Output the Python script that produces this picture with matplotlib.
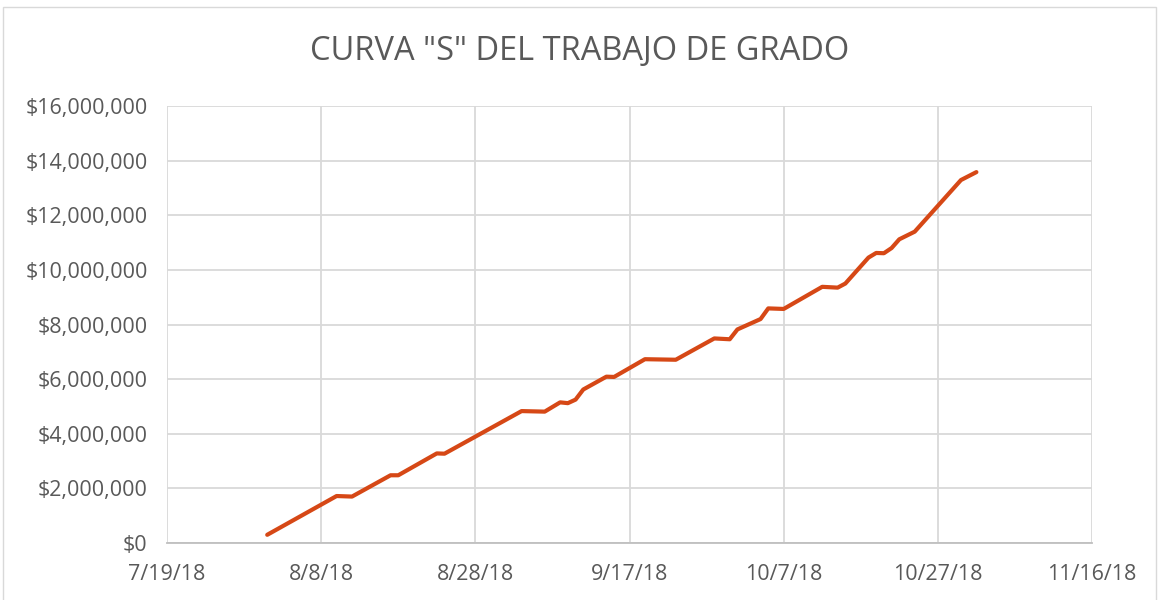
import matplotlib.pyplot as plt
from matplotlib.patches import Rectangle
import numpy as np
import pandas as pd

# fechas y valor acumulado (pesos)
fechas = ["2018-08-01", "2018-08-10", "2018-08-12", "2018-08-17", "2018-08-18",
          "2018-08-23", "2018-08-24", "2018-09-03", "2018-09-06", "2018-09-08",
          "2018-09-09", "2018-09-10", "2018-09-11", "2018-09-14", "2018-09-15",
          "2018-09-19", "2018-09-23", "2018-09-28", "2018-09-30", "2018-10-01",
          "2018-10-04", "2018-10-05", "2018-10-07", "2018-10-12", "2018-10-14",
          "2018-10-15", "2018-10-18", "2018-10-19", "2018-10-20", "2018-10-21",
          "2018-10-22", "2018-10-24", "2018-10-30", "2018-11-01"]
valores = [0.30, 1.72, 1.70, 2.48, 2.48,
           3.28, 3.27, 4.83, 4.81, 5.15,
           5.12, 5.25, 5.62, 6.09, 6.08,
           6.73, 6.71, 7.49, 7.46, 7.82,
           8.20, 8.59, 8.57, 9.38, 9.35,
           9.50, 10.45, 10.62, 10.61, 10.80,
           11.12, 11.40, 13.29, 13.58]  # millones

ticks_x = ["2018-07-19", "2018-08-08", "2018-08-28", "2018-09-17",
           "2018-10-07", "2018-10-27", "2018-11-16"]
ticks_y = np.arange(0, 16000001, 2000000)

x = pd.to_datetime(fechas)
y = np.array(valores) * 1e6
tx = pd.to_datetime(ticks_x)

plt.rcParams['font.family'] = ['Open Sans', 'DejaVu Sans']
gris = '#595959'

fig = plt.figure(figsize=(11.59, 6), dpi=100)
ax = fig.add_axes([0.1441, 0.095, 0.7981, 0.7283])

ax.plot(x, y, color='#D64816', linewidth=3, solid_joinstyle='round',
        solid_capstyle='round', zorder=3)

ax.set_xlim(tx[0], tx[-1])
ax.set_ylim(0, 16000000)
ax.set_xticks(tx)
ax.set_xticklabels([f"{d.month}/{d.day}/{d.strftime('%y')}" for d in tx])
ax.set_yticks(ticks_y)
ax.set_yticklabels([f"${v:,.0f}" for v in ticks_y])

ax.grid(True, color='#d9d9d9', linewidth=1.3)
ax.set_axisbelow(True)
for s in ['top', 'right', 'left']:
    ax.spines[s].set_visible(False)
ax.spines['bottom'].set_color('#bfbfbf')
ax.spines['bottom'].set_linewidth(1.3)
ax.tick_params(length=0, colors=gris, labelsize=15.5)
ax.tick_params(axis='x', pad=15)
ax.tick_params(axis='y', pad=14)

fig.text(0.5, 0.915, 'CURVA "S" DEL TRABAJO DE GRADO', ha='center', va='center',
         fontsize=23.5, color=gris)

fig.patches.append(Rectangle((0.003, -0.01), 0.994, 0.998, transform=fig.transFigure,
                             fill=False, edgecolor='#d9d9d9', linewidth=1))

fig.savefig('out.png', dpi=100)
